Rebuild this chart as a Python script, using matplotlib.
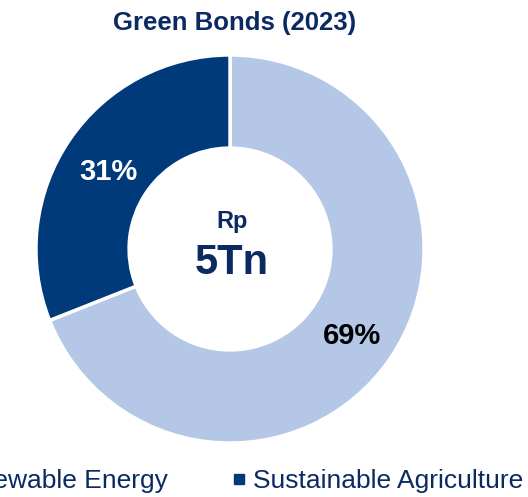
import matplotlib
matplotlib.use("Agg")
import matplotlib.pyplot as plt
from matplotlib.lines import Line2D
import numpy as np

plt.rcParams['font.family'] = ['Liberation Sans', 'DejaVu Sans']

categories = ["Renewable Energy", "Sustainable Agriculture"]
shares = [69, 31]
colors = ["#b4c7e7", "#003a7a"]
label_colors = ["#000000", "#ffffff"]
title = "Green Bonds (2023)"
center_top = "Rp"
center_main = "5Tn"
navy = "#0c2a62"

fig = plt.figure(figsize=(5.28, 4.97), dpi=100)
ax = fig.add_axes([(230 - 196) / 528, 1 - (249 + 196) / 497, 392 / 528, 392 / 497])

wedges, _ = ax.pie(shares, colors=colors, startangle=90, counterclock=False,
                   radius=1.0, wedgeprops=dict(width=0.48, edgecolor="white", linewidth=2.5))
ax.set_aspect("equal")
ax.set_xlim(-1.01, 1.01)
ax.set_ylim(-1.01, 1.01)

# percentage labels placed along the ring
start = 90.0
for share, tc in zip(shares, label_colors):
    mid = start - share / 100 * 360 / 2
    start -= share / 100 * 360
    r = 0.76
    x, y = r * np.cos(np.radians(mid)), r * np.sin(np.radians(mid))
    if share < 50:
        y -= 0.03
    else:
        y -= 0.02
    ax.text(x, y, f"{share}%", ha="center", va="center", fontsize=21,
            fontweight="bold", color=tc)

ax.text(0.01, 0.14, center_top, ha="center", va="center", fontsize=17,
        fontweight="bold", color=navy)
ax.text(0.01, -0.07, center_main, ha="center", va="center", fontsize=30,
        fontweight="bold", color=navy)

fig.text(235 / 528, 1 - 23 / 497, title, ha="center", va="center", fontsize=18.5,
         fontweight="bold", color=navy)

handles = [Line2D([], [], marker="s", linestyle="none", markersize=7.5,
                  markerfacecolor=c, markeredgecolor=c) for c in colors]
fig.legend(handles, categories, loc="center", bbox_to_anchor=(224 / 528, 1 - 481 / 497),
           ncol=2, frameon=False, fontsize=19, labelcolor=navy,
           handletextpad=0.27, columnspacing=2.45, handlelength=0.5)

fig.savefig("out.png", dpi=100)
